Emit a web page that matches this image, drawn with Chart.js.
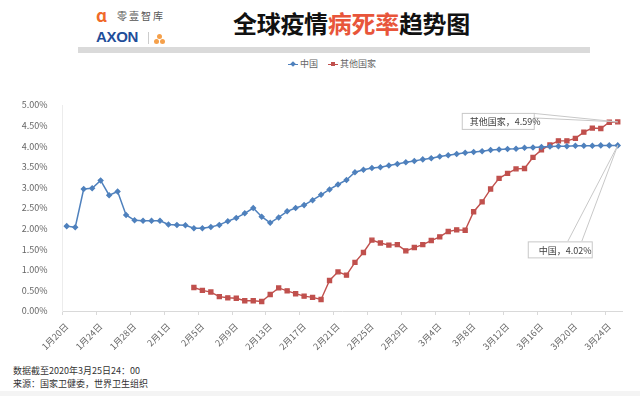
<!DOCTYPE html>
<html>
<head>
<meta charset="utf-8">
<script src="https://cdn.jsdelivr.net/npm/chart.js@4.4.1/dist/chart.umd.min.js"></script>
<style>
  body { margin: 0; width: 640px; height: 396px; background: #fff; position: relative; overflow: hidden;
         font-family: "Noto Sans CJK SC", "Noto Sans", sans-serif; }
  .abs { position: absolute; white-space: nowrap; }
  #title { left: 233px; top: 5px; font-size: 24px; font-weight: 700; color: #111; letter-spacing: -0.3px; }
  #title .red { color: #e8553a; }
  #bar { left: 78px; top: 47px; width: 512px; height: 6px; background: #dadada; }
  #legend { left: 288px; top: 57px; font-size: 9px; color: #666; }
  #legend .item { display: inline-block; margin-right: 8px; }
  #legend .ln { display: inline-block; width: 10px; height: 1.5px; vertical-align: middle; position: relative; margin-right: 2px; }
  #legend .mk { position: absolute; left: 3px; top: -2px; width: 4px; height: 4px; }
  #chartBox { left: 0; top: 85px; width: 640px; height: 275px; }
  #foot1 { left: 13px; top: 364px; font-size: 9px; color: #333; }
  #foot2 { left: 13px; top: 377px; font-size: 9px; color: #333; }
  #strip { left: 0; top: 391px; width: 640px; height: 5px; background: #f4f4f4; }
  #logoA { left: 96px; top: 6px; font-size: 17px; font-weight: 700; color: #f06a2a; line-height: 17px; }
  #logoCn { left: 117px; top: 8px; font-size: 10px; color: #555; letter-spacing: 2px; }
  #axon { left: 96px; top: 28px; font-size: 15px; font-weight: 700; color: #1f4e9a; font-family: "Liberation Sans", Arial, sans-serif; letter-spacing: -0.3px; }
  #sep { left: 148px; top: 32px; width: 1px; height: 12px; background: #ccc; }
  .dot { position: absolute; width: 5px; height: 5px; border-radius: 50%; background: #f5a04a; }
</style>
</head>
<body>
<div class="abs" id="logoA">ɑ</div>
<div class="abs" id="logoCn">零壹智库</div>
<div class="abs" id="axon">AXON</div>
<div class="abs" id="sep"></div>
<div class="dot" style="left:157px;top:34px"></div>
<div class="dot" style="left:154px;top:39px"></div>
<div class="dot" style="left:160px;top:39px"></div>
<div class="abs" id="title">全球疫情<span class="red">病死率</span>趋势图</div>
<div class="abs" id="bar"></div>
<div class="abs" id="legend">
  <span class="item"><span class="ln" style="background:#4f81bd"><span class="mk" style="background:#4f81bd;transform:rotate(45deg)"></span></span>中国</span>
  <span class="item"><span class="ln" style="background:#c0504d"><span class="mk" style="background:#c0504d"></span></span>其他国家</span>
</div>
<div class="abs" id="chartBox"><canvas id="chart"></canvas></div>
<div class="abs" id="foot1">数据截至2020年3月25日24：00</div>
<div class="abs" id="foot2">来源：国家卫健委，世界卫生组织</div>
<div class="abs" id="strip"></div>
<script>
// dates 1月20日 .. 3月25日
const dates = [];
for (let d = 20; d <= 31; d++) dates.push("1月" + d + "日");
for (let d = 1; d <= 29; d++) dates.push("2月" + d + "日");
for (let d = 1; d <= 25; d++) dates.push("3月" + d + "日");

// case fatality rate, %
const china = [
  2.06, 2.03, 2.96, 2.98, 3.17, 2.81, 2.90, 2.33, 2.20, 2.19, 2.19, 2.19,
  2.10, 2.09, 2.08, 2.01, 2.01, 2.04, 2.09, 2.18, 2.26, 2.37, 2.50, 2.29, 2.14, 2.27,
  2.42, 2.50, 2.57, 2.69, 2.82, 2.95, 3.07, 3.18, 3.37, 3.43, 3.47, 3.49, 3.53, 3.57, 3.61,
  3.64, 3.68, 3.71, 3.75, 3.78, 3.81, 3.84, 3.86, 3.88, 3.91, 3.92, 3.93, 3.94, 3.96, 3.97,
  3.98, 3.99, 4.00, 4.00, 4.01, 4.01, 4.01, 4.02, 4.02, 4.02
];
const others = [
  null, null, null, null, null, null, null, null, null, null, null, null,
  null, null, null, 0.57, 0.50, 0.46, 0.35, 0.32, 0.31, 0.25, 0.25, 0.23, 0.40, 0.56,
  0.49, 0.42, 0.36, 0.33, 0.28, 0.74, 0.95, 0.87, 1.18, 1.42, 1.72, 1.65, 1.60, 1.61, 1.46,
  1.54, 1.61, 1.71, 1.80, 1.93, 1.97, 1.96, 2.41, 2.65, 2.96, 3.22, 3.34, 3.45, 3.46, 3.73,
  3.91, 4.03, 4.13, 4.13, 4.19, 4.34, 4.44, 4.43, 4.58, 4.59
];
const seriesNames = ["中国", "其他国家"];
const yTicks = [0, 0.5, 1, 1.5, 2, 2.5, 3, 3.5, 4, 4.5, 5];

// callout boxes for the last values
const callouts = {
  id: "callouts",
  afterDatasetsDraw(chart) {
    const ctx = chart.ctx;
    const last = dates.length - 1;
    ctx.save();
    ctx.font = "9px 'Noto Sans CJK SC'";
    ctx.textBaseline = "middle";
    ctx.strokeStyle = "#c8c8c8";
    ctx.lineWidth = 1;

    // 其他国家
    let px = chart.scales.x.getPixelForValue(last);
    let py = chart.scales.y.getPixelForValue(others[last]);
    let bx = px - 156, by = py - 9, bw = 72, bh = 16;
    ctx.fillStyle = "#fff";
    ctx.fillRect(bx, by, bw, bh);
    ctx.strokeRect(bx + 0.5, by + 0.5, bw, bh);
    ctx.beginPath();
    ctx.moveTo(bx + bw, by + 0.5); ctx.lineTo(px, py);
    ctx.moveTo(bx + bw, by + 5); ctx.lineTo(px, py);
    ctx.stroke();
    ctx.fillStyle = "#404040";
    ctx.fillText(seriesNames[1] + "，" + others[last].toFixed(2) + "%", bx + 8, by + bh / 2 + 1);

    // 中国
    py = chart.scales.y.getPixelForValue(china[last]);
    bx = px - 90; by = py + 96; bw = 64; bh = 16;
    ctx.beginPath();
    ctx.moveTo(px - 50, by); ctx.lineTo(px, py);
    ctx.moveTo(px - 36, by); ctx.lineTo(px, py);
    ctx.stroke();
    ctx.fillStyle = "#fff";
    ctx.fillRect(bx, by, bw, bh);
    ctx.strokeRect(bx + 0.5, by + 0.5, bw, bh);
    ctx.fillStyle = "#404040";
    ctx.fillText(seriesNames[0] + "，" + china[last].toFixed(2) + "%", bx + 11, by + bh / 2 + 1);
    ctx.restore();
  }
};

new Chart(document.getElementById("chart"), {
  type: "line",
  data: {
    labels: dates,
    datasets: [
      {
        label: seriesNames[0], data: china,
        borderColor: "#4f81bd", backgroundColor: "#4f81bd", borderWidth: 1.5,
        pointStyle: "rectRot", pointRadius: 2.2, tension: 0
      },
      {
        label: seriesNames[1], data: others,
        borderColor: "#c0504d", backgroundColor: "#c0504d", borderWidth: 1.4,
        pointStyle: "rect", pointRadius: 2.8, tension: 0
      }
    ]
  },
  options: {
    responsive: true,
    maintainAspectRatio: false,
    animation: false,
    layout: { padding: { top: 20, right: 18, left: 0, bottom: 0 } },
    plugins: { legend: { display: false }, tooltip: { enabled: false } },
    scales: {
      x: {
        offset: true,
        grid: {
          offset: true, drawOnChartArea: false, drawTicks: true, tickLength: 4,
          color: c => (c.index % 4 === 0 ? "#d9d9d9" : "rgba(0,0,0,0)")
        },
        border: { color: "#d9d9d9" },
        ticks: {
          autoSkip: false, minRotation: 45, maxRotation: 45, padding: 6,
          color: "#666", font: { size: 9, family: "'Noto Sans CJK SC'" },
          callback: (v, i) => (i % 4 === 0 ? dates[i] : "")
        },
        afterFit: s => { s.height = 49; }
      },
      y: {
        min: 0, max: 5,
        afterBuildTicks: s => { s.ticks = yTicks.map(v => ({ value: v })); },
        grid: { display: false },
        border: { display: true, color: "#ececec" },
        ticks: {
          padding: 7, color: "#666", font: { size: 9, family: "'Noto Sans CJK SC'" },
          callback: v => v.toFixed(2) + "%"
        },
        afterFit: s => { s.width = 62.5; }
      }
    }
  },
  plugins: [callouts]
});
</script>
</body>
</html>
